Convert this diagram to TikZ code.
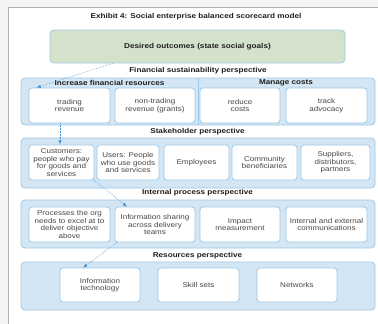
\documentclass[tikz,border=0pt]{standalone}
\usepackage{fontspec}
\setmainfont{Liberation Sans}[FakeStretch=1.15]
\usetikzlibrary{positioning,arrows}

\definecolor{panelblue}{HTML}{D4E6F3}
\definecolor{edgeblue}{HTML}{9DC9E7}
\definecolor{goalgreen}{HTML}{D5E2CB}
\definecolor{linkblue}{HTML}{3A8DD2}

\begin{document}
\begin{tikzpicture}[x=1pt,y=-1pt,font=\fontsize{7}{7.6}\selectfont,
panel/.style={draw=edgeblue,fill=panelblue,rounded corners=4pt,line width=0.8pt,minimum width=354pt,inner sep=0pt},
item/.style={draw=edgeblue,fill=white,rounded corners=3pt,line width=0.8pt,align=center,inner sep=1pt,minimum height=35pt,text=black!72},
head/.style={font=\fontsize{7.1}{7.6}\selectfont\bfseries,inner sep=0pt,text=black!88},
link/.style={linkblue,densely dotted,-latex,line width=0.5pt}]
\useasboundingbox (0,0) rectangle (378,324);
\fill[gray!9] (0,0) rectangle (378,324);
\fill[white] (8,7) rectangle (378,324);
\draw[gray!60,line width=0.8pt] (8,324) -- (8,7) -- (378,7);

\node[head] (title) at (196,17) {Exhibit 4: Social enterprise balanced scorecard model};
\node[draw=edgeblue,fill=goalgreen,rounded corners=4pt,line width=0.8pt,minimum width=295pt,minimum height=33pt,head] (goals) at (197.5,46.5) {Desired outcomes (state social goals)};

\node[head] (finhead) at (198,71) {Financial sustainability perspective};
\node[panel,minimum height=47pt] (fin) at (198,101.5) {};
\draw[edgeblue,line width=0.8pt] (fin.north) -- (fin.south);
\node[head] (incr) at (109.5,83) {Increase financial resources};
\node[head] (manage) at (286,83) {Manage costs};
\node[item,minimum width=81pt] (trade) at (69.5,105.5) {trading\\revenue};
\node[item,minimum width=80pt] (grants) at (155,105.5) {non-trading\\revenue (grants)};
\node[item,minimum width=80pt] (reduce) at (240,105.5) {reduce\\costs};
\node[item,minimum width=81pt] (advocacy) at (326.5,105.5) {track\\advocacy};

\node[head] (stakehead) at (197.5,132) {Stakeholder perspective};
\node[panel,minimum height=50pt] (stake) at (198,163) {};
\node[item,minimum width=65pt] (customers) at (61.5,162.5) {Customers:\\people who pay\\for goods and\\services};
\node[item,minimum width=62pt] (users) at (128,162.5) {Users: People\\who use goods\\and services};
\node[item,minimum width=65pt] (staff) at (196.5,162.5) {Employees};
\node[item,minimum width=65pt] (community) at (264.5,162.5) {Community\\beneficiaries};
\node[item,minimum width=69pt] (suppliers) at (335.5,162.5) {Suppliers,\\distributors,\\partners};

\node[head] (prochead) at (197.5,193) {Internal process perspective};
\node[panel,minimum height=48pt] (proc) at (198,224) {};
\node[item,minimum width=81pt] (excel) at (69.5,224.5) {Processes the org\\needs to excel at to\\deliver objective\\above};
\node[item,minimum width=80pt] (sharing) at (155,224.5) {Information sharing\\across delivery\\teams};
\node[item,minimum width=80pt] (impact) at (240,224.5) {Impact\\measurement};
\node[item,minimum width=81pt] (comms) at (326.5,224.5) {Internal and external\\communications};

\node[head] (reshead) at (197.5,256) {Resources perspective};
\node[panel,minimum height=48pt] (res) at (198,286) {};
\node[item,minimum width=80pt,minimum height=34pt] (it) at (100,285) {Information\\technology};
\node[item,minimum width=81pt,minimum height=34pt] (skills) at (198.5,285) {Skill sets};
\node[item,minimum width=80pt,minimum height=34pt] (networks) at (297,285) {Networks};

\draw[link] ([xshift=-85pt]goals.south) -- ([xshift=-33pt]trade.north);
\draw[link] ([xshift=-9.5pt]trade.south) -- ([xshift=-1.5pt]customers.north);
\draw[link] (customers.south east) -- ([xshift=-28pt]sharing.north);
\draw[link] ([xshift=-38pt]sharing.south) -- ([xshift=-17pt]it.north);
\end{tikzpicture}
\end{document}
